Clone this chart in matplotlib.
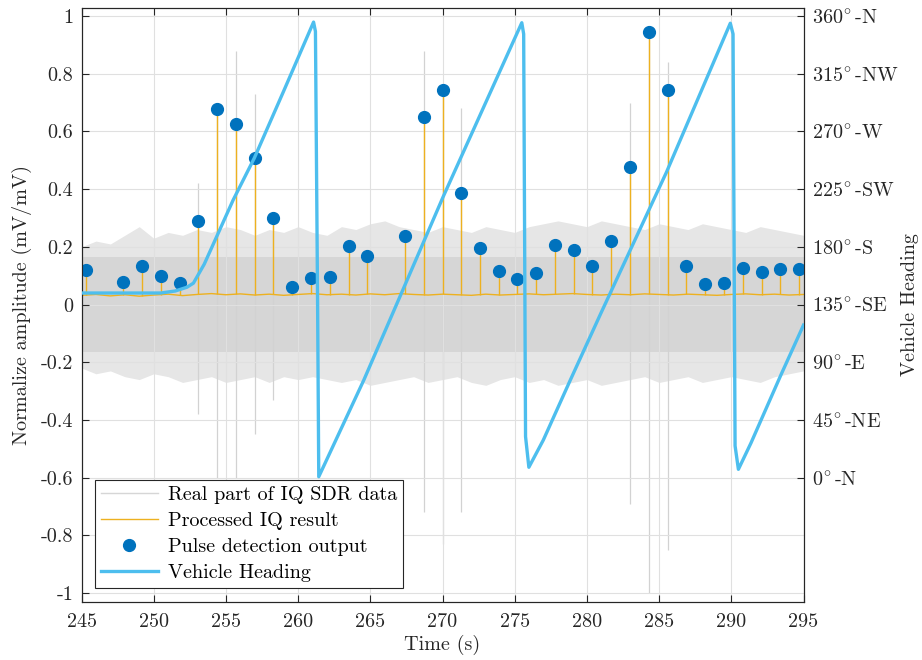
import numpy as np
import matplotlib
matplotlib.use("Agg")
import matplotlib.pyplot as plt
from matplotlib.lines import Line2D

# detected pulses (time s, normalized amplitude)
pulse_t = [245.31, 247.88, 249.19, 250.51, 251.83, 253.07, 254.39, 255.71, 257.0, 258.27,
           259.59, 260.9, 262.22, 263.52, 264.8, 267.42, 268.71, 270.0, 271.3, 272.62,
           273.91, 275.18, 276.5, 277.79, 279.08, 280.38, 281.67, 283.01, 284.31, 285.6,
           286.89, 288.21, 289.48, 290.79, 292.09, 293.38, 294.67]
pulse_v = [0.12, 0.077, 0.132, 0.099, 0.075, 0.291, 0.678, 0.625, 0.508, 0.30,
           0.061, 0.093, 0.096, 0.203, 0.169, 0.237, 0.649, 0.743, 0.386, 0.195,
           0.116, 0.089, 0.108, 0.207, 0.189, 0.134, 0.221, 0.478, 0.944, 0.744,
           0.134, 0.071, 0.074, 0.126, 0.112, 0.123, 0.123]

# raw IQ data: envelope of the noise band, read every second
env_t = list(range(245, 296))
env_hi = [0.20, 0.22, 0.21, 0.24, 0.27, 0.23, 0.25, 0.24, 0.26, 0.25,
          0.27, 0.26, 0.24, 0.26, 0.25, 0.27, 0.25, 0.24, 0.27, 0.26,
          0.28, 0.29, 0.27, 0.26, 0.25, 0.27, 0.26, 0.25, 0.27, 0.26,
          0.25, 0.27, 0.28, 0.29, 0.28, 0.27, 0.29, 0.28, 0.27, 0.26,
          0.28, 0.27, 0.26, 0.28, 0.27, 0.26, 0.25, 0.27, 0.26, 0.25, 0.24]
env_lo = [-0.22, -0.24, -0.23, -0.25, -0.26, -0.24, -0.25, -0.27, -0.26, -0.25,
          -0.27, -0.26, -0.25, -0.27, -0.25, -0.26, -0.25, -0.26, -0.27, -0.26,
          -0.28, -0.27, -0.26, -0.25, -0.27, -0.26, -0.25, -0.27, -0.28, -0.26,
          -0.25, -0.27, -0.26, -0.28, -0.27, -0.26, -0.28, -0.27, -0.26, -0.25,
          -0.27, -0.26, -0.25, -0.27, -0.26, -0.25, -0.26, -0.27, -0.25, -0.24, -0.23]
core = 0.165
# strong raw spikes at the big pulses
spike_t = [253.07, 254.39, 255.71, 257.0, 258.27, 268.71, 270.0, 271.3, 283.01, 284.31, 285.6]
spike_hi = [0.42, 0.68, 0.88, 0.73, 0.30, 0.88, 0.74, 0.68, 0.70, 0.94, 0.84]
spike_lo = [-0.38, -0.60, -0.60, -0.45, -0.33, -0.72, -0.83, -0.72, -0.69, -1.0, -0.85]

# processed IQ baseline
base_v = [0.032, 0.035, 0.030, 0.034, 0.029, 0.033, 0.036, 0.031, 0.035, 0.038,
          0.034, 0.037, 0.033, 0.036, 0.032, 0.035, 0.038, 0.034, 0.036, 0.033,
          0.037, 0.034, 0.038, 0.035, 0.033, 0.036, 0.034, 0.032, 0.036, 0.033,
          0.035, 0.037, 0.034, 0.036, 0.038, 0.035, 0.033, 0.036, 0.034, 0.037,
          0.035, 0.033, 0.036, 0.034, 0.032, 0.035, 0.037, 0.034, 0.036, 0.033, 0.035]

# vehicle heading (deg)
head_t = [245.0, 250.5, 251.5, 252.3, 252.75, 253.5, 255.5, 256.97, 259.0, 261.07,
          261.2, 261.35, 261.43, 264.55, 270.05, 275.49, 275.62, 275.75, 275.98, 276.98,
          278.85, 280.97, 285.5, 289.93, 290.12, 290.26, 290.49, 291.36, 293.43, 295.0]
head_deg = [144.0, 144.0, 145.6, 148.5, 151.7, 166.5, 216.5, 249.3, 301.5, 355.3,
            348.0, 135.0, 0.7, 76.1, 219.2, 354.8, 346.0, 32.0, 8.1, 29.3,
            76.1, 128.3, 238.0, 354.4, 346.0, 24.8, 6.5, 27.0, 80.0, 119.0]

x_ticks = [245, 250, 255, 260, 265, 270, 275, 280, 285, 290, 295]
y_ticks = [-1, -0.8, -0.6, -0.4, -0.2, 0, 0.2, 0.4, 0.6, 0.8, 1]
y_labels = ['-1', '-0.8', '-0.6', '-0.4', '-0.2', '0', '0.2', '0.4', '0.6', '0.8', '1']
h_ticks = [0, 45, 90, 135, 180, 225, 270, 315, 360]
h_names = ['N', 'NE', 'E', 'SE', 'S', 'SW', 'W', 'NW', 'N']

plt.rcParams['font.family'] = ['cmr10', 'DejaVu Serif']
plt.rcParams['mathtext.fontset'] = 'cm'
plt.rcParams['axes.unicode_minus'] = False

c_gray = '#d6d6d6'
c_orange = '#EDB120'
c_dot = '#0072BD'
c_head = '#4DBEEE'
c_axis = '#262626'
fs = 14.5

fig = plt.figure(figsize=(9.22, 6.6), dpi=100)
ax = fig.add_axes([0.0884, 0.0879, 0.7831, 0.9000])

ax.fill_between(env_t, env_lo, env_hi, color='#e6e6e6', lw=0, zorder=1)
ax.fill_between(env_t, -core, core, color=c_gray, lw=0, zorder=1)
ax.vlines(spike_t, spike_lo, spike_hi, color='#d2d2d2', lw=0.9, zorder=1)

ax.plot(env_t, base_v, color=c_orange, lw=1.0, zorder=2)
stem_bottom = np.interp(pulse_t, env_t, base_v)
ax.vlines(pulse_t, stem_bottom, pulse_v, color=c_orange, lw=1.0, zorder=2)
ax.plot(pulse_t, pulse_v, 'o', color=c_dot, ms=8.5, zorder=3)

y_lo, y_hi = -1.031, 1.028
ax.set_xlim(245, 295)
ax.set_ylim(y_lo, y_hi)
ax.set_xticks(x_ticks)
ax.set_yticks(y_ticks)
ax.set_yticklabels(y_labels)
ax.set_axisbelow('line')
ax.grid(True, color='#e0e0e0', lw=0.8)
ax.tick_params(direction='in', top=True, length=5, width=0.8, colors=c_axis,
               labelsize=fs)
ax.tick_params(axis='x', pad=8)
ax.tick_params(axis='y', pad=6)
ax.set_xlabel('Time (s)', fontsize=fs, color=c_axis, labelpad=3)
ax.set_ylabel('Normalize amplitude (mV/mV)', fontsize=fs, color=c_axis, labelpad=6)

# heading axis: 0 deg at -0.6, 45 deg per 0.2
ax2 = ax.twinx()
ax2.plot(head_t, head_deg, color=c_head, lw=2.4, zorder=4)
ax2.set_ylim((y_lo + 0.6) * 225, (y_hi + 0.6) * 225)
ax2.set_yticks(h_ticks)
ax2.set_yticklabels([f'${d}^{{\\!\\circ}}$-{n}' for d, n in zip(h_ticks, h_names)])
ax2.tick_params(direction='in', length=5, width=0.8, colors=c_axis, labelsize=fs, pad=6)
ax2.set_ylabel('Vehicle Heading', fontsize=fs, color=c_axis, labelpad=2)

for a in (ax, ax2):
    for s in a.spines.values():
        s.set_color(c_axis)
        s.set_linewidth(0.8)

handles = [Line2D([], [], color=c_gray, lw=1.0),
           Line2D([], [], color=c_orange, lw=1.0),
           Line2D([], [], ls='none', marker='o', color=c_dot, ms=8.5),
           Line2D([], [], color=c_head, lw=2.4)]
labels = ['Real part of IQ SDR data', 'Processed IQ result',
          'Pulse detection output', 'Vehicle Heading']
leg = ax2.legend(handles, labels, loc='lower left', bbox_to_anchor=(0.019, 0.023),
                 borderaxespad=0, fontsize=fs, frameon=True, fancybox=False,
                 edgecolor=c_axis, framealpha=1, handlelength=2.8,
                 handletextpad=0.5, labelspacing=0.4, borderpad=0.3)
leg.get_frame().set_linewidth(0.8)

fig.savefig('out.png', dpi=100)
